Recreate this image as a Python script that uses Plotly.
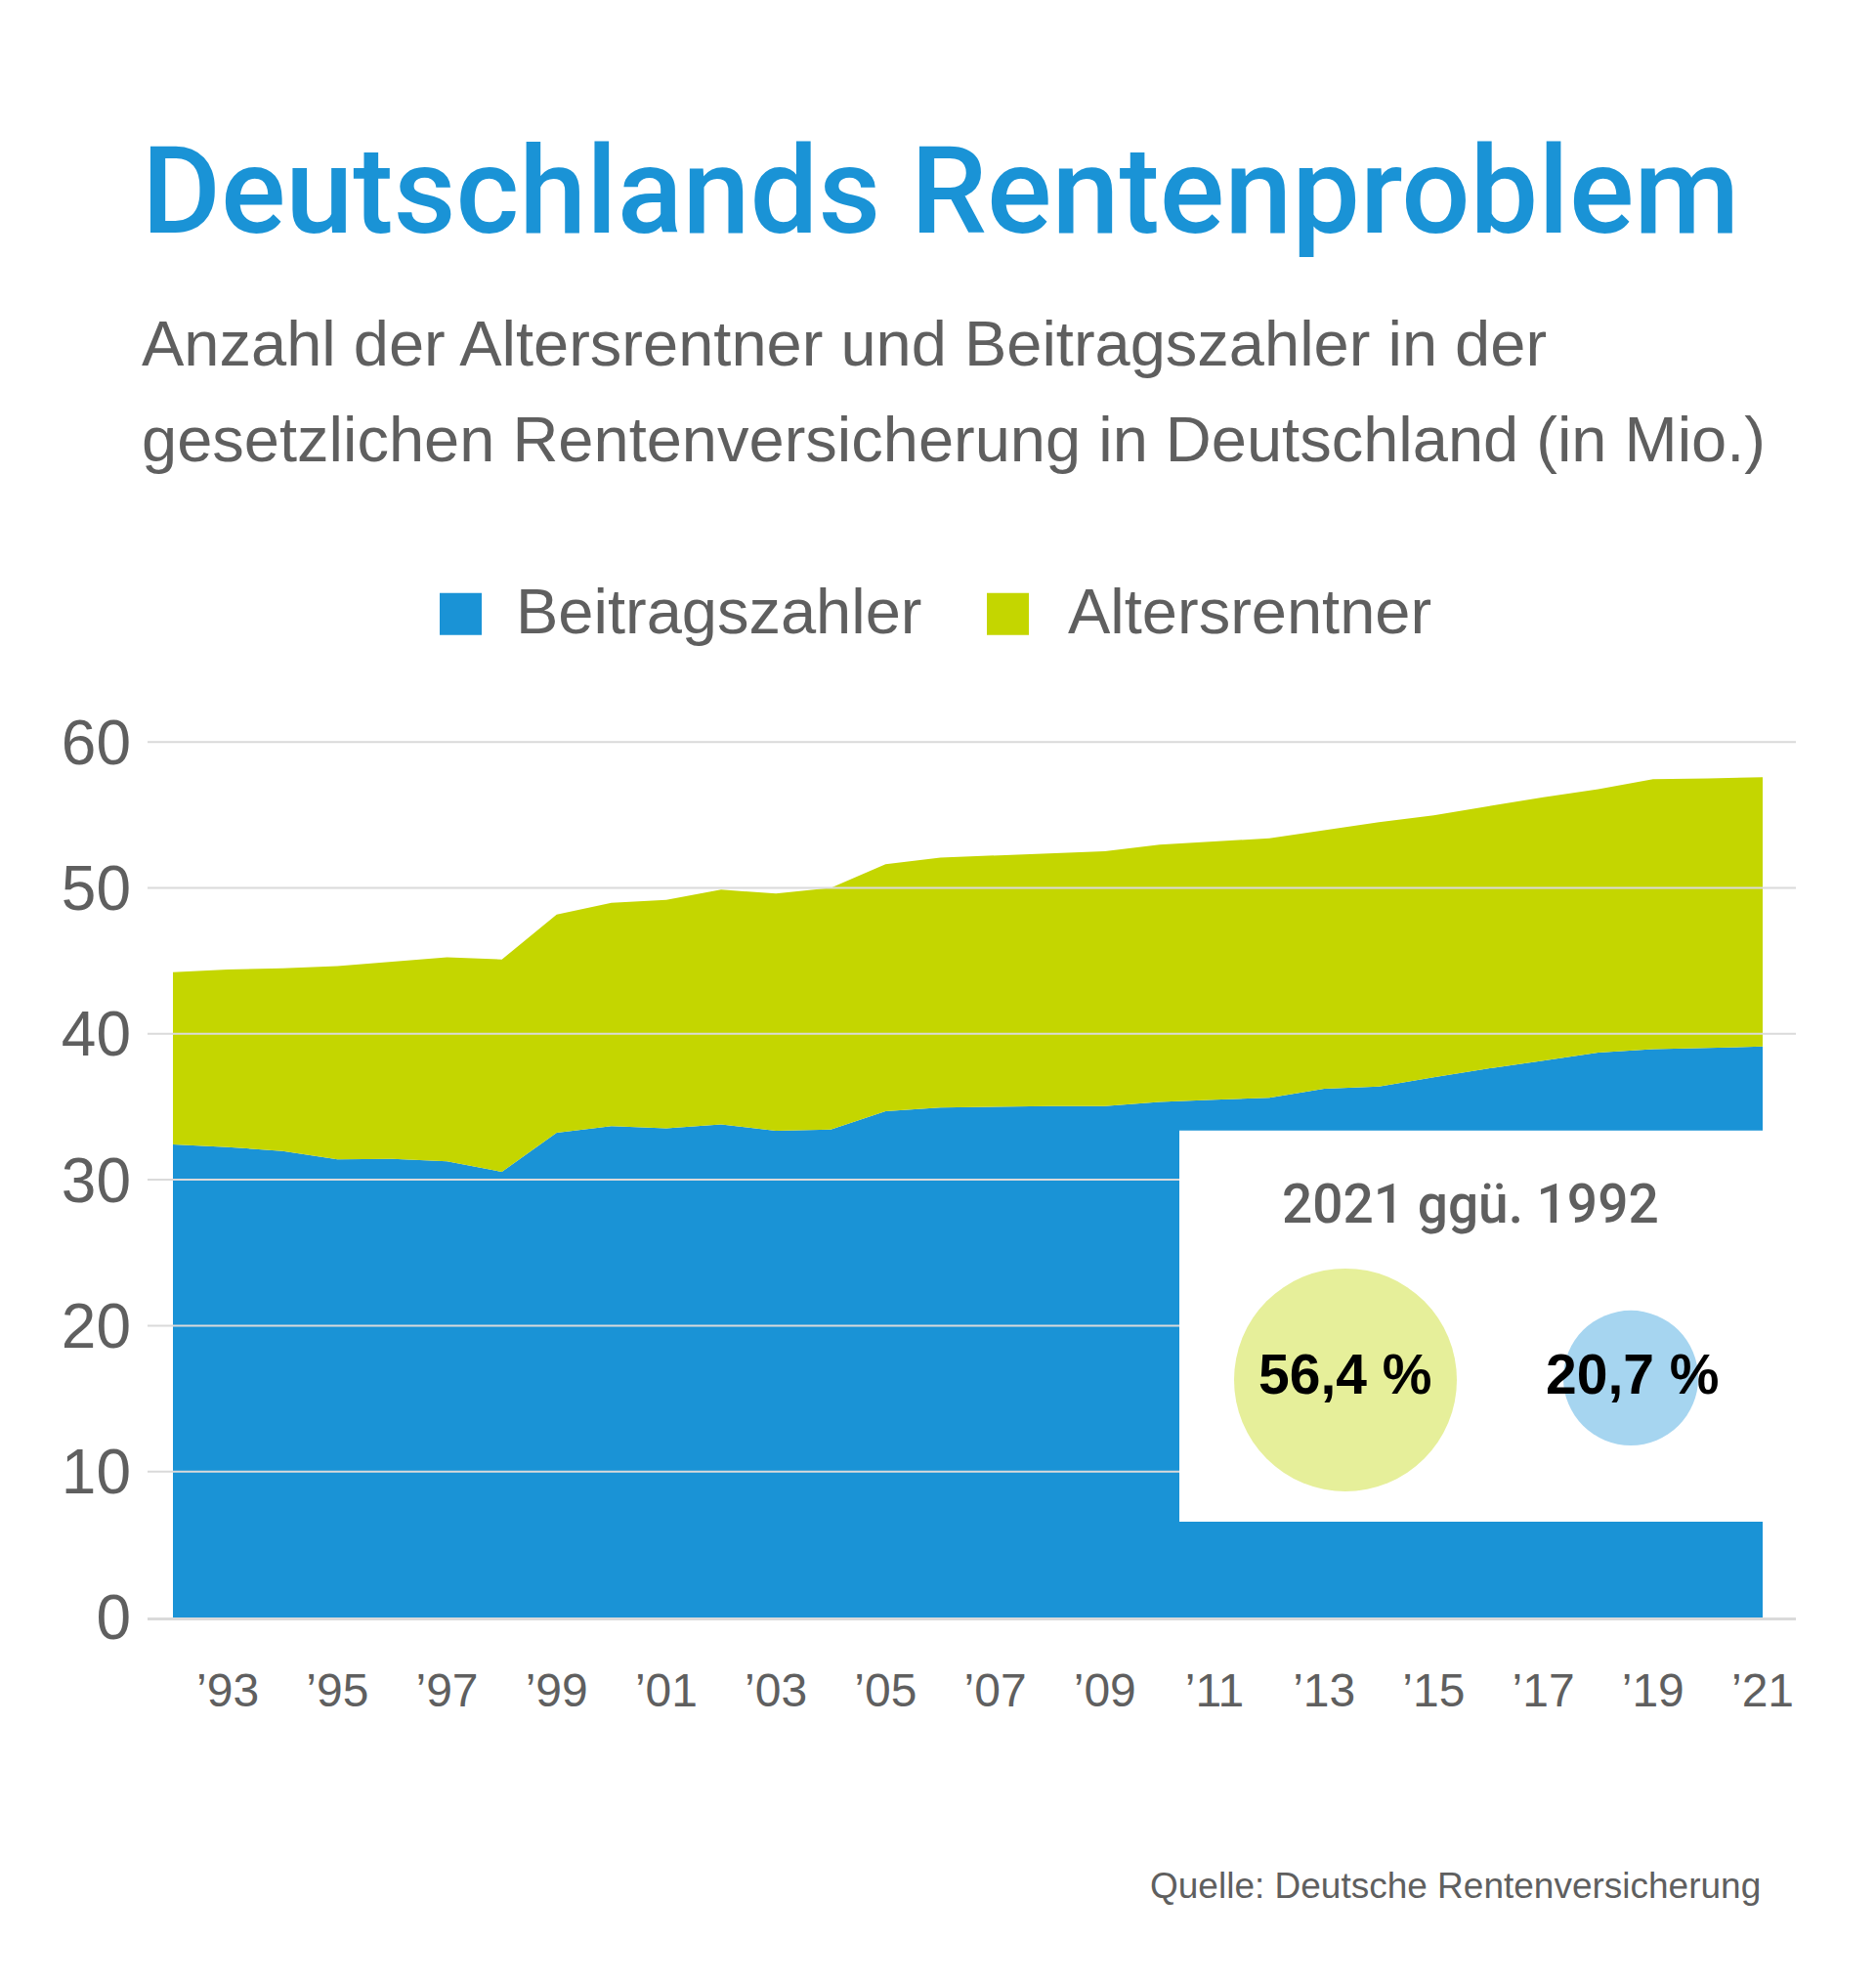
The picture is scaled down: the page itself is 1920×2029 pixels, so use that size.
import plotly.graph_objects as go

# ---------------- data ----------------
years = list(range(1992, 2022))
beitragszahler = [32.42, 32.24, 31.97, 31.40, 31.43, 31.26, 30.54,
                  33.23, 33.68, 33.53, 33.80, 33.35, 33.44,
                  34.69, 34.95, 35.02, 35.05, 35.05,
                  35.33, 35.48, 35.62, 36.24, 36.39,
                  37.03, 37.63, 38.16, 38.71, 38.95,
                  39.02, 39.13]
altersrentner = [11.80, 12.17, 12.53, 13.25, 13.52, 13.99, 14.56,
                 14.95, 15.30, 15.66, 16.08, 16.26, 16.56,
                 16.93, 17.13, 17.20, 17.29, 17.46,
                 17.64, 17.70, 17.78, 17.71, 18.11,
                 17.95, 17.99, 18.06, 18.06, 18.51,
                 18.49, 18.46]
x_tickvals = [1993, 1995, 1997, 1999, 2001, 2003, 2005, 2007, 2009, 2011, 2013, 2015, 2017, 2019, 2021]
x_ticktext = ["’93", "’95", "’97", "’99", "’01", "’03", "’05", "’07", "’09", "’11", "’13", "’15", "’17", "’19", "’21"]
y_tickvals = [0, 10, 20, 30, 40, 50, 60]
change_labels = ["56,4 %", "20,7 %"]
change_values = [56.4, 20.7]

# ---------------- style ----------------
BLUE = "#1a93d6"
GREEN = "#c4d600"
LIGHT_GREEN = "#e6ef9a"
LIGHT_BLUE = "#a6d5f0"
GRAY = "#5f5f5f"
GRID = "#dadada"
FONT = "Arial, 'Liberation Sans', sans-serif"
W, H = 1920, 2029
PL, PR, PB = 151, 1838, 1655          # plot area in pixels
Y0, Y1 = 0, 60.15
PX_PER_UNIT = (1655 - 759.5) / 60
PT = PB - (Y1 - Y0) * PX_PER_UNIT
X0, X1 = 1991.5366, 2021.606


def px_x(px):
    return (px - PL) / (PR - PL)


def px_y(py):
    return (PB - py) / (PB - PT)


def data_x(px):
    return X0 + (px - PL) / (PR - PL) * (X1 - X0)


def data_y(py):
    return Y0 + (PB - py) / (PB - PT) * (Y1 - Y0)


fig = go.Figure()
fig.add_trace(go.Scatter(x=years, y=beitragszahler, mode="lines", stackgroup="one",
                         line=dict(width=0, color=BLUE), fillcolor=BLUE,
                         name="Beitragszahler", hoverinfo="skip"))
fig.add_trace(go.Scatter(x=years, y=altersrentner, mode="lines", stackgroup="one",
                         line=dict(width=0, color=GREEN), fillcolor=GREEN,
                         name="Altersrentner", hoverinfo="skip"))

# gridlines drawn over the areas (as in the reference)
gx, gy = [], []
for v in y_tickvals[1:]:
    gx += [X0, X1, None]
    gy += [v, v, None]
fig.add_trace(go.Scatter(x=gx, y=gy, mode="lines", line=dict(width=2, color=GRID),
                         hoverinfo="skip", showlegend=False))

# white inset box (decoration), reaching the right edge of the plot area
bx0, bx1, by0, by1 = data_x(1207), data_x(1850), data_y(1557), data_y(1157)
fig.add_trace(go.Scatter(x=[bx0, bx1, bx1, bx0, bx0], y=[by0, by0, by1, by1, by0],
                         mode="lines", fill="toself", fillcolor="white",
                         line=dict(width=0, color="white"), hoverinfo="skip",
                         showlegend=False))

# bubbles sized by change (area proportional)
bubble_ref = 2 * change_values[0] / (228 ** 2)
fig.add_trace(go.Scatter(x=[data_x(1377), data_x(1669)], y=[data_y(1412), data_y(1410)],
                         mode="markers",
                         marker=dict(size=change_values, sizemode="area", sizeref=bubble_ref,
                                     color=[LIGHT_GREEN, LIGHT_BLUE], opacity=1, line=dict(width=0)),
                         hoverinfo="skip", showlegend=False, cliponaxis=False))

fig.update_layout(
    width=W, height=H,
    margin=dict(l=PL, r=W - PR, t=PT, b=H - PB, pad=0),
    paper_bgcolor="white", plot_bgcolor="white",
    showlegend=False,
    font=dict(family=FONT, color=GRAY),
    xaxis=dict(range=[X0, X1], tickvals=x_tickvals, ticktext=x_ticktext,
               showgrid=False, zeroline=False, showline=True, linecolor=GRID, linewidth=3,
               ticks="", ticklabelstandoff=30,
               tickfont=dict(size=48, color=GRAY, family=FONT)),
    yaxis=dict(range=[Y0, Y1], tickvals=y_tickvals, showgrid=False,
               zeroline=False, showline=False, ticks="", ticklabelstandoff=16,
               tickfont=dict(size=64, color=GRAY, family=FONT)),
)

annotations = []
# title
annotations.append(dict(x=px_x(143), y=px_y(196), xref="paper", yref="paper", xanchor="left", yanchor="middle",
                        text="Deutschlands Rentenproblem", showarrow=False,
                        font=dict(family="Roboto", size=124, color=BLUE, weight=500)))
# subtitle
annotations.append(dict(x=px_x(143), y=px_y(352), xref="paper", yref="paper", xanchor="left", yanchor="middle",
                        text="Anzahl der Altersrentner und Beitragszahler in der", showarrow=False,
                        font=dict(size=65, color=GRAY)))
annotations.append(dict(x=px_x(143), y=px_y(450), xref="paper", yref="paper", xanchor="left", yanchor="middle",
                        text="gesetzlichen Rentenversicherung in Deutschland (in Mio.)", showarrow=False,
                        font=dict(size=65, color=GRAY)))
# legend text
annotations.append(dict(x=px_x(526), y=px_y(626), xref="paper", yref="paper", xanchor="left", yanchor="middle",
                        text="Beitragszahler", showarrow=False, font=dict(size=65, color=GRAY)))
annotations.append(dict(x=px_x(1091), y=px_y(626), xref="paper", yref="paper", xanchor="left", yanchor="middle",
                        text="Altersrentner", showarrow=False, font=dict(size=65, color=GRAY)))
# inset texts
annotations.append(dict(x=px_x(1505), y=px_y(1232), xref="paper", yref="paper", xanchor="center", yanchor="middle",
                        text="2021 ggü. 1992", showarrow=False,
                        font=dict(family="Roboto", size=55, color=GRAY, weight=500)))
for lbl, cx in zip(change_labels, [1376, 1670]):
    annotations.append(dict(x=px_x(cx), y=px_y(1406), xref="paper", yref="paper", xanchor="center", yanchor="middle",
                            text="<b>" + lbl + "</b>", showarrow=False,
                            font=dict(size=57, color="black")))
# source
annotations.append(dict(x=px_x(1804), y=px_y(1929), xref="paper", yref="paper", xanchor="right", yanchor="middle",
                        text="Quelle: Deutsche Rentenversicherung", showarrow=False,
                        font=dict(size=37, color=GRAY)))
fig.update_layout(annotations=annotations)

# legend squares
fig.add_shape(type="rect", xref="paper", yref="paper", x0=px_x(450), x1=px_x(493), y0=px_y(650), y1=px_y(607),
              fillcolor=BLUE, line=dict(width=0))
fig.add_shape(type="rect", xref="paper", yref="paper", x0=px_x(1010), x1=px_x(1053), y0=px_y(650), y1=px_y(607),
              fillcolor=GREEN, line=dict(width=0))

fig.write_html("out.html")
